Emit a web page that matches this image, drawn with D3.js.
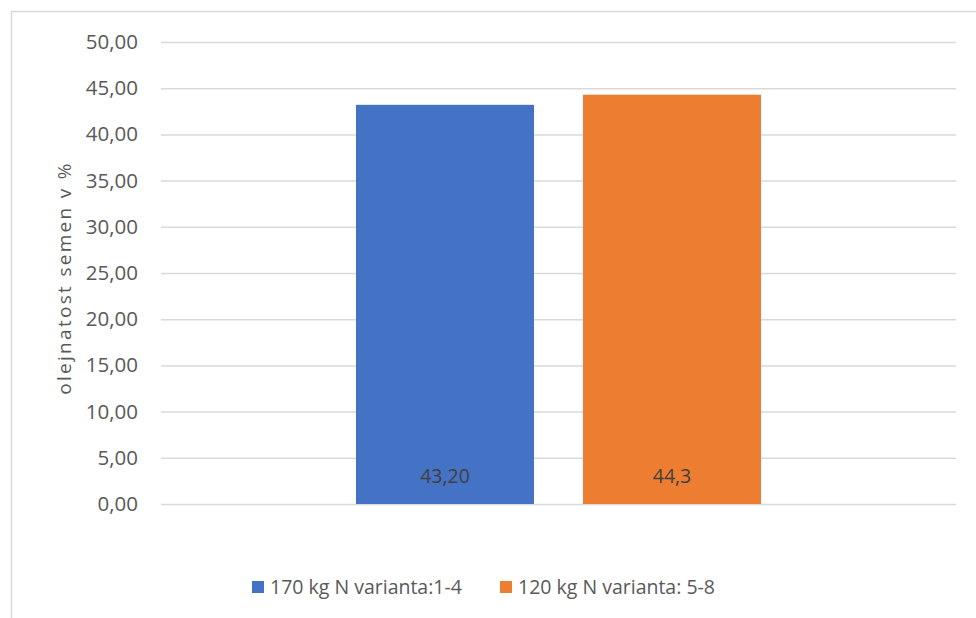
<!DOCTYPE html>
<html><head><meta charset="utf-8">
<script src="https://cdn.jsdelivr.net/npm/d3@7"></script>
<style>body{margin:0;background:#fff;} text{font-family:"Open Sans",sans-serif;}</style>
</head><body>
<svg id="c" width="976" height="618"></svg>
<script>
const categories = [""];
const seriesNames = ["170 kg N varianta:1-4", "120 kg N varianta: 5-8"];
const seriesValues = [43.20, 44.3];
const valueLabels = ["43,20", "44,3"];
const colors = ["#4472C4", "#ED7D31"];
const yTicks = [0, 5, 10, 15, 20, 25, 30, 35, 40, 45, 50];
const yTitle = "olejnatost semen v %";

(function(){
const svg = d3.select("#c");
svg.append("rect").attr("x", 11.5).attr("y", 11.5).attr("width", 1000).attr("height", 1000)
  .attr("fill", "none").attr("stroke", "#d9d9d9").attr("stroke-width", 1.5);

const mL = 161, mR = 956, mT = 42, mB = 504;
const y = d3.scaleLinear().domain([0, 50]).range([mB, mT]);
const x0 = d3.scaleBand().domain(categories).range([mL, mR]).paddingInner(0).paddingOuter(0.4815);
const x1 = d3.scaleBand().domain(seriesNames).range([0, x0.bandwidth()]).paddingInner(0.216).paddingOuter(0);

const yAxis = d3.axisLeft(y).tickValues(yTicks).tickSize(-(mR - mL)).tickPadding(23)
  .tickFormat(d => d3.format(".2f")(d).replace(".", ","));
const g = svg.append("g").attr("transform", `translate(${mL},0)`).call(yAxis);
g.select(".domain").remove();
g.selectAll(".tick line").attr("stroke", "#d9d9d9").attr("stroke-width", 1.5);
g.selectAll(".tick text").attr("fill", "#595959").attr("font-size", 20.5).attr("font-family", "Open Sans, sans-serif");

const grp = svg.append("g").selectAll("g").data(categories).join("g")
  .attr("transform", d => `translate(${x0(d)},0)`);
grp.selectAll("rect").data(seriesNames.map((n, i) => ({n, v: seriesValues[i], c: colors[i]})))
  .join("rect")
  .attr("x", d => x1(d.n)).attr("width", x1.bandwidth())
  .attr("y", d => y(d.v)).attr("height", d => y(0) - y(d.v))
  .attr("fill", d => d.c);
grp.selectAll("text.vl").data(seriesNames.map((n, i) => ({n, l: valueLabels[i]})))
  .join("text").attr("class", "vl")
  .attr("x", d => x1(d.n) + x1.bandwidth() / 2).attr("y", 483)
  .attr("text-anchor", "middle").attr("font-size", 19.5).attr("fill", "#404040")
  .text(d => d.l);

svg.append("text").attr("transform", `translate(71,278) rotate(-90)`)
  .attr("text-anchor", "middle").attr("font-size", 19).attr("fill", "#595959")
  .attr("letter-spacing", 2.3)
  .text(yTitle);

const legX = [252, 500];
const leg = svg.append("g").selectAll("g").data(seriesNames).join("g")
  .attr("transform", (d, i) => `translate(${legX[i]},581)`);
leg.append("rect").attr("width", 12).attr("height", 12).attr("fill", (d, i) => colors[i]);
leg.append("text").attr("x", 18).attr("y", 12.5).attr("font-size", 19.5).attr("fill", "#595959").text(d => d);
})();
</script>
</body></html>
